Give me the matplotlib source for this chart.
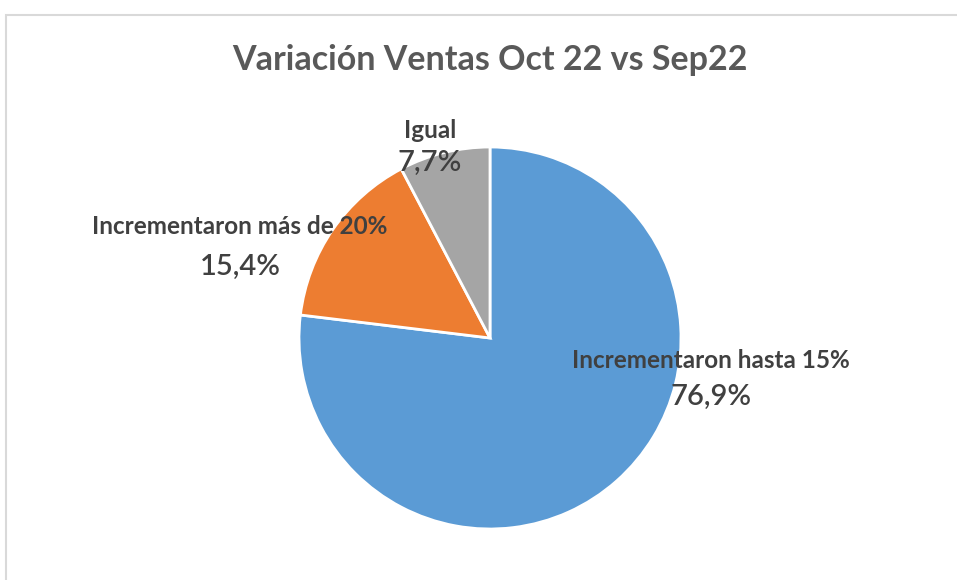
import matplotlib
matplotlib.use("Agg")
import matplotlib.pyplot as plt
from matplotlib.patches import Rectangle

categorias = ["Incrementaron hasta 15%", "Incrementaron más de 20%", "Igual"]
valores = [10, 2, 1]
colores = ["#5B9BD5", "#ED7D31", "#A5A5A5"]
titulo = "Variación Ventas Oct 22 vs Sep22"

# label centres in pixel coords (x, y_categoria, y_porcentaje from top)
pos_labels = [(711, 360, 397), (240, 227, 267), (430, 130, 163)]
W, H = 957, 580
cx, cy, r = 490, 338, 191

plt.rcParams["font.family"] = ["Lato", "DejaVu Sans"]
fig = plt.figure(figsize=(W / 100, H / 100), dpi=100)
fig.patch.set_facecolor("white")

# chart frame
fig.patches.append(Rectangle((6 / W, -0.1), 1.2, (H - 15) / H + 0.1,
                             transform=fig.transFigure, fill=False,
                             edgecolor="#D9D9D9", lw=1.5))

ax = fig.add_axes([(cx - r) / W, (H - cy - r) / H, 2 * r / W, 2 * r / H])
ax.pie(valores, colors=colores, startangle=90, counterclock=False,
       radius=1, wedgeprops=dict(edgecolor="white", linewidth=2))
ax.set_xlim(-1, 1)
ax.set_ylim(-1, 1)
ax.set_aspect("auto")
ax.axis("off")

total = sum(valores)
for cat, v, (px, py1, py2) in zip(categorias, valores, pos_labels):
    x = (px - cx) / r
    pct = f"{100 * v / total:.1f}%".replace(".", ",")
    ax.text(x, (cy - py1) / r, cat, ha="center", va="center", fontsize=17.5,
            fontweight="bold", color="#404040")
    ax.text(x, (cy - py2) / r, pct, ha="center", va="center", fontsize=21,
            fontweight="semibold", color="#404040")

fig.text(490 / W, 1 - 60 / H, titulo, ha="center", va="center",
         fontsize=24.5, fontweight="bold", color="#595959")

fig.savefig("out.png", dpi=100)
